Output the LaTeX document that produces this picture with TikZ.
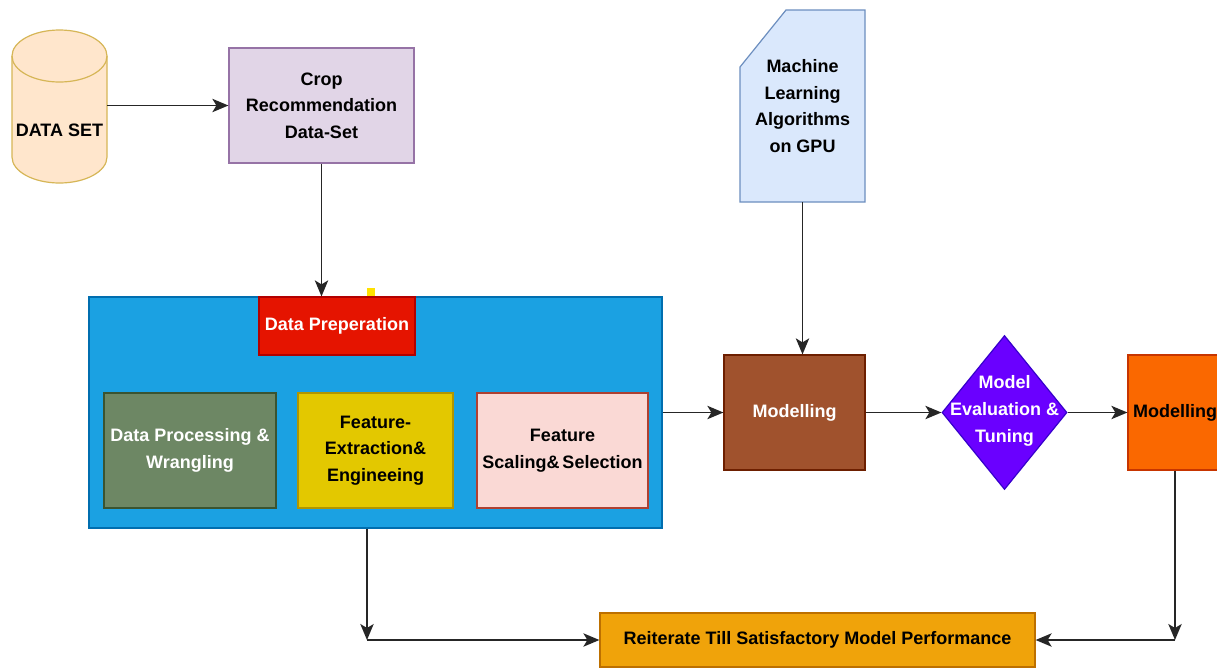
\documentclass[tikz,border=0pt]{standalone}
\usepackage{fontspec}
\setmainfont{Liberation Sans}
\usetikzlibrary{arrows.meta,shapes.geometric}
\definecolor{cylfill}{HTML}{FFE6CC}
\definecolor{cylline}{HTML}{D6B656}
\definecolor{cropfill}{HTML}{E1D5E7}
\definecolor{cropline}{HTML}{9673A6}
\definecolor{bluefill}{HTML}{1BA1E2}
\definecolor{blueline}{HTML}{006EAF}
\definecolor{redfill}{HTML}{E51400}
\definecolor{redline}{HTML}{B20000}
\definecolor{greenfill}{HTML}{6D8764}
\definecolor{greenline}{HTML}{3A5431}
\definecolor{yelfill}{HTML}{E3C800}
\definecolor{yelline}{HTML}{B09500}
\definecolor{pinkfill}{HTML}{FAD9D5}
\definecolor{pinkline}{HTML}{AE4132}
\definecolor{mlfill}{HTML}{DAE8FC}
\definecolor{mlline}{HTML}{6C8EBF}
\definecolor{brownfill}{HTML}{A0522D}
\definecolor{brownline}{HTML}{6D1F00}
\definecolor{purpfill}{HTML}{6A00FF}
\definecolor{purpline}{HTML}{3700CC}
\definecolor{orfill}{HTML}{FA6800}
\definecolor{orline}{HTML}{C73500}
\definecolor{ambfill}{HTML}{F0A30A}
\definecolor{ambline}{HTML}{BD7000}
\definecolor{markyel}{HTML}{FFE100}
\tikzset{
  txt/.style={font=\fontsize{13.5}{20}\selectfont\bfseries, align=center, inner sep=0pt},
  box/.style={draw, line width=0.9pt, inner sep=0pt, align=center, font=\fontsize{13.5}{20}\selectfont\bfseries},
  arr/.style={draw=black!85, line width=1.3pt, -{Stealth[length=12pt,width=10pt,inset=3pt]}},
}
\begin{document}
\begin{tikzpicture}[x=0.75pt,y=-0.75pt]
\useasboundingbox (0,0) rectangle (1217,668);
\fill[white] (0,0) rectangle (1217,668);
% cylinder
\draw[fill=cylfill, draw=cylline, line width=0.9pt]
  (12,56) -- (12,157) arc[start angle=180,end angle=360,x radius=35.625pt,y radius=19.5pt]
  -- (107,56) arc[start angle=0,end angle=180,x radius=35.625pt,y radius=19.5pt] -- cycle;
\draw[draw=cylline, line width=0.9pt] (12,56) arc[start angle=180,end angle=360,x radius=35.625pt,y radius=19.5pt];
\node[minimum width=71.25pt, minimum height=114.75pt, inner sep=0pt] (ds) at (59.5,106.5) {};
\node[txt] (dstext) at (59.5,130) {DATA SET};
% crop
\node[box, fill=cropfill, draw=cropline, minimum width=138.75pt, minimum height=86.25pt] (crop) at (321.5,105.5) {Crop\\Recommendation\\Data-Set};
% blue container
\node[box, fill=bluefill, draw=blueline, minimum width=429.75pt, minimum height=173.25pt] (blue) at (375.5,412.5) {};
\fill[markyel] (367,288) rectangle (375,297);
\node[box, fill=redfill, draw=redline, text=white, minimum width=117pt, minimum height=43.5pt] (dp) at (337,326) {Data Preperation};
\node[box, fill=greenfill, draw=greenline, text=white, minimum width=129pt, minimum height=86.25pt] (proc) at (190,450.5) {Data Processing \&\\Wrangling};
\node[box, fill=yelfill, draw=yelline, minimum width=116.25pt, minimum height=86.25pt] (fe) at (375.5,450.5) {Feature-\\Extraction\&\\Engineeing};
\node[box, fill=pinkfill, draw=pinkline, minimum width=128.25pt, minimum height=86.25pt] (fs) at (562.5,450.5) {Feature\\Scaling\&\,Selection};
% ML card
\draw[fill=mlfill, draw=mlline, line width=0.9pt] (786,10) -- (865,10) -- (865,202) -- (740,202) -- (740,67) -- cycle;
\node[txt, minimum width=93.75pt, minimum height=144pt] (ml) at (802.5,106) {Machine\\Learning\\Algorithms\\on GPU};
% modelling
\node[box, fill=brownfill, draw=brownline, text=white, minimum width=105.75pt, minimum height=86.25pt] (mod) at (794.5,412.5) {Modelling};
% diamond
\node[diamond, draw=purpline, fill=purpfill, line width=0.9pt, inner sep=0pt, minimum width=93.75pt, minimum height=115.5pt] (eval) at (1004.5,412.5) {};
\node[txt, text=white] (evaltext) at (1004.5,411) {Model\\Evaluation \&\\Tuning};
% orange
\node[box, fill=orfill, draw=orline, minimum width=70.5pt, minimum height=86.25pt] (mod2) at (1175,412.5) {Modelling};
% reiterate
\node[box, fill=ambfill, draw=ambline, minimum width=326.25pt, minimum height=40.5pt] (reit) at (817.5,640) {Reiterate Till Satisfactory Model Performance};
% connectors
\draw[arr] (ds.east |- crop.west) -- (crop.west);
\draw[arr] (crop.south) -- (crop.south |- dp.north);
\draw[arr] (blue.east |- mod.west) -- (mod.west);
\draw[arr] (ml.south) -- (ml.south |- mod.north);
\draw[arr] (mod.east) -- (eval.west);
\draw[arr] (eval.east) -- (mod2.west);
\coordinate (bl) at (367,640);
\coordinate (br) at (1175,640);
\draw[arr] (blue.south -| bl) -- (bl);
\draw[arr] (bl) -- (reit.west);
\draw[arr] (mod2.south) -- (br);
\draw[arr] (br) -- (reit.east);
\end{tikzpicture}
\end{document}
